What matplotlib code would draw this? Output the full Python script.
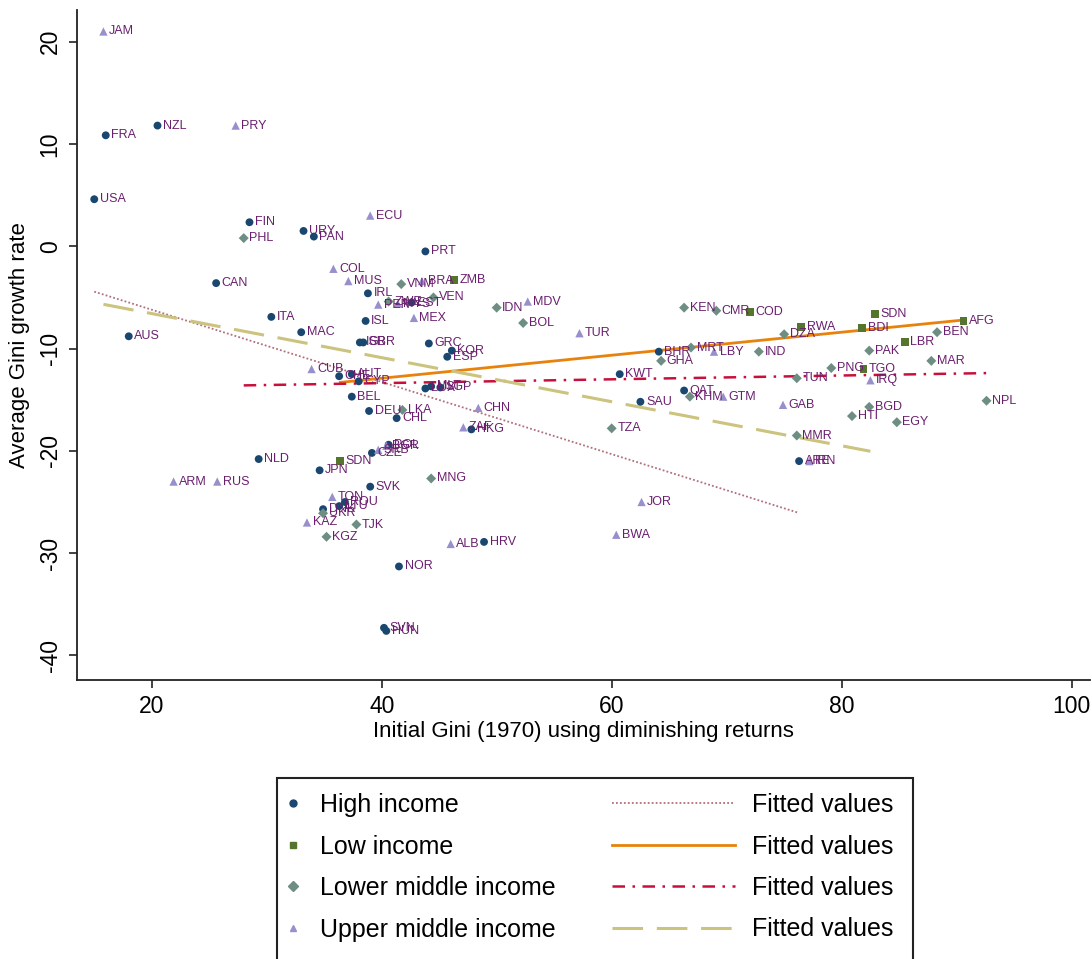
import matplotlib
matplotlib.use("Agg")
import matplotlib.pyplot as plt
from matplotlib.lines import Line2D
from matplotlib.patches import Rectangle

plt.rcParams['font.family'] = ['Liberation Sans', 'DejaVu Sans']
plt.rcParams['axes.unicode_minus'] = False

# --- data: (label, initial gini, growth rate) ---
high_names = ["USA", "FRA", "NZL", "FIN", "URY", "PAN", "CAN", "ITA", "MAC", "AUS",
              "IRL", "ISL", "PRT", "GRC", "KOR", "ESP", "ISR", "GBR", "CHE", "AUT",
              "CYP", "BEL", "DEU", "CHL", "LUX", "MLT", "SGP", "HKG", "EST", "CZE",
              "POL", "KWT", "SAU", "BHR", "QAT", "ARE", "JPN", "NLD", "SVK", "HRV",
              "NOR", "SVN", "HUN", "ROU", "LTU", "DNK"]
high_x = [15.0, 16.0, 20.5, 28.5, 33.2, 34.1, 25.6, 30.4, 33.0, 18.0,
          38.8, 38.6, 43.8, 44.1, 46.1, 45.7, 38.1, 38.4, 36.3, 37.4,
          38.0, 37.4, 38.9, 41.3, 43.8, 44.3, 45.1, 47.8, 42.6, 39.15,
          40.6, 60.7, 62.5, 64.1, 66.3, 76.3, 34.6, 29.3, 39.0, 48.9,
          41.5, 40.2, 40.4, 36.8, 36.3, 34.9]
high_y = [4.6, 10.85, 11.8, 2.35, 1.5, 0.95, -3.6, -6.9, -8.4, -8.8,
          -4.6, -7.3, -0.5, -9.5, -10.2, -10.8, -9.4, -9.4, -12.7, -12.5,
          -13.2, -14.7, -16.1, -16.8, -13.9, -13.7, -13.8, -17.9, -5.5, -20.2,
          -19.4, -12.5, -15.2, -10.3, -14.1, -21.0, -21.9, -20.8, -23.5, -28.9,
          -31.3, -37.3, -37.6, -25.0, -25.4, -25.7]

low_names = ["ZMB", "COD", "SDN", "RWA", "BDI", "AFG", "LBR", "TGO", "SDN"]
low_x = [46.3, 72.0, 82.9, 76.5, 81.8, 90.6, 85.5, 81.9, 36.4]
low_y = [-3.3, -6.4, -6.6, -7.9, -8.0, -7.3, -9.35, -12.0, -21.0]

lmid_names = ["PHL", "VNM", "VEN", "IDN", "BOL", "KEN", "CMR", "DZA", "MRT", "GHA",
              "IND", "TUN", "KHM", "TZA", "MMR", "PAK", "BEN", "MAR", "PNG", "NPL",
              "BGD", "HTI", "EGY", "LKA", "MNG", "UKR", "TJK", "KGZ", "ZWE"]
lmid_x = [28.0, 41.7, 44.5, 50.0, 52.3, 66.3, 69.1, 75.0, 66.9, 64.3,
          72.8, 76.1, 66.8, 60.0, 76.1, 82.4, 88.3, 87.8, 79.1, 92.6,
          82.4, 80.9, 84.8, 41.8, 44.3, 34.9, 37.8, 35.2, 40.6]
lmid_y = [0.8, -3.7, -5.0, -6.0, -7.5, -6.0, -6.3, -8.6, -9.9, -11.2,
          -10.3, -12.9, -14.7, -17.8, -18.5, -10.2, -8.4, -11.2, -11.9, -15.1,
          -15.7, -16.6, -17.2, -16.0, -22.7, -26.1, -27.2, -28.4, -5.4]

umid_names = ["JAM", "PRY", "ECU", "COL", "MUS", "BRA", "MDV", "MEX", "TUR", "LBY",
              "GTM", "GAB", "IRQ", "CUB", "CHN", "ZAF", "JOR", "BWA", "ALB", "ARM",
              "RUS", "TON", "KAZ", "PER", "MYS", "BGR", "SRB", "IRN"]
umid_x = [15.8, 27.3, 39.0, 35.8, 37.1, 43.5, 52.7, 42.8, 57.2, 68.9,
          69.7, 74.9, 82.5, 33.9, 48.4, 47.1, 62.6, 60.4, 46.0, 21.9,
          25.7, 35.7, 33.5, 39.7, 41.4, 40.4, 39.7, 77.2]
umid_y = [21.0, 11.8, 3.0, -2.2, -3.4, -3.4, -5.4, -7.0, -8.5, -10.3,
          -14.7, -15.5, -13.1, -12.0, -15.8, -17.7, -25.0, -28.2, -29.1, -23.0,
          -23.0, -24.5, -27.0, -5.7, -5.6, -19.5, -19.9, -21.0]

group_labels = ["High income", "Low income", "Lower middle income", "Upper middle income"]
# fitted lines
fit_intercept = [0.86, -17.40, -14.12, -2.27]
fit_slope = [-0.353, 0.1125, 0.0186, -0.2154]

groups = [(high_names, high_x, high_y), (low_names, low_x, low_y),
          (lmid_names, lmid_x, lmid_y), (umid_names, umid_x, umid_y)]
marker_colors = ["#1a476f", "#55752f", "#6e8e84", "#9890cc"]
markers = ["o", "s", "D", "^"]
marker_sizes = [32, 32, 26, 36]
fit_styles = [dict(color="#b0707c", lw=1.3, ls=(0, (1, 1.2))),
              dict(color="#e8820c", lw=2.0, ls="-"),
              dict(color="#c8103c", lw=1.8, ls=(0, (5, 3, 1, 3))),
              dict(color="#cbc37e", lw=2.2, ls=(0, (10, 4.5)))]
label_color = "#6a1f6e"

fig = plt.figure(figsize=(10.92, 9.59), dpi=100)
ax = fig.add_axes([77/1092, 1 - 680/959, (1090 - 77)/1092, 670/959])

for (names, xs, ys), col, mk, ms in zip(groups, marker_colors, markers, marker_sizes):
    ax.scatter(xs, ys, marker=mk, s=ms, color=col, edgecolors="none", zorder=3)
    for n, x, y in zip(names, xs, ys):
        ax.annotate(n, (x, y), xytext=(4, 0), textcoords="offset points",
                    va="center", ha="left", fontsize=9, color=label_color, zorder=4)

for (names, xs, ys), a, b, st in zip(groups, fit_intercept, fit_slope, fit_styles):
    x0, x1 = min(xs), max(xs)
    ax.plot([x0, x1], [a + b * x0, a + b * x1], zorder=2, **st)

ax.set_xlim(13.5, 101.6)
ax.set_ylim(-42.4, 23.1)
ax.set_xticks([20, 40, 60, 80, 100])
ax.set_yticks([-40, -30, -20, -10, 0, 10, 20])
for s in ["top", "right"]:
    ax.spines[s].set_visible(False)
for s in ["left", "bottom"]:
    ax.spines[s].set_linewidth(1.3)
    ax.spines[s].set_color("#222222")
ax.tick_params(length=6, width=1.2, color="#222222", labelsize=16.5, pad=5)
for lab in ax.get_yticklabels():
    lab.set_rotation(90)
    lab.set_va("center")
ax.set_xlabel("Initial Gini (1970) using diminishing returns", fontsize=16, labelpad=2)
ax.set_ylabel("Average Gini growth rate", fontsize=16, labelpad=6)

# legend: markers on the left, fitted lines on the right, inside one frame
mk_handles = [Line2D([], [], ls="", marker=mk, color=c, markersize=5)
              for mk, c in zip(markers, marker_colors)]
ln_handles = [Line2D([], [], **st) for st in fit_styles]
top = 1 - 793/959
leg1 = fig.legend(mk_handles, group_labels, loc="upper left", bbox_to_anchor=(283/1092, top),
                  frameon=False, fontsize=18, handlelength=0.8, handletextpad=0.7,
                  labelspacing=0.7, borderpad=0, borderaxespad=0)
leg2 = fig.legend(ln_handles, ["Fitted values"] * 4, loc="upper left",
                  bbox_to_anchor=(612/1092, top), frameon=False, fontsize=18,
                  handlelength=4.9, handletextpad=0.7, labelspacing=0.7,
                  borderpad=0, borderaxespad=0)
fig.add_artist(Rectangle((277/1092, -0.05), (913 - 277)/1092, 1 - 778/959 + 0.05,
                         transform=fig.transFigure, fill=False, lw=1.5,
                         edgecolor="#222222", clip_on=False))

fig.savefig("out.png", dpi=100)
